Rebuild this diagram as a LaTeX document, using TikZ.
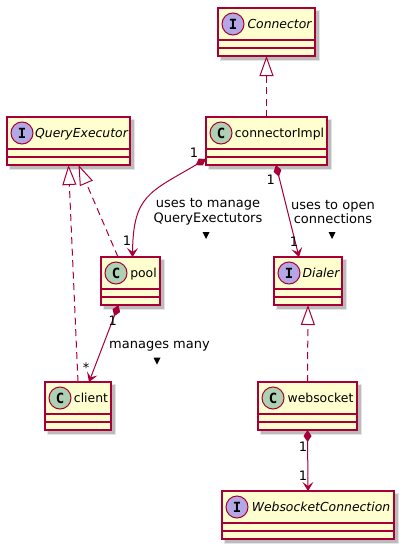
\documentclass[tikz,border=0pt]{standalone}
\usepackage{fontspec}
\setmainfont{DejaVu Sans}[ItalicFont={DejaVu Sans Oblique},BoldFont={DejaVu Sans Bold}]
\newfontfamily\iconfont{DejaVu Sans Mono Bold}
\usetikzlibrary{arrows.meta}
\definecolor{umlred}{HTML}{A80036}
\definecolor{umlfill}{HTML}{FEFECE}
\definecolor{classcirc}{HTML}{ADD1B2}
\definecolor{ifacecirc}{HTML}{B4A7E5}
\tikzset{
  umlbox/.style={draw=umlred, fill=umlfill, line width=1.5pt, rectangle, inner sep=0pt, outer sep=0pt, minimum height=48pt},
  sepline/.style={draw=umlred, line width=1.5pt},
  iconbase/.style={circle, draw=umlred, line width=1pt, minimum size=22pt, inner sep=0pt, font=\fontsize{14}{14}\selectfont\iconfont},
  classicon/.style={iconbase, fill=classcirc},
  ifaceicon/.style={iconbase, fill=ifacecirc},
  classname/.style={inner sep=0pt, anchor=base, font=\fontsize{12.4}{14}\selectfont},
  ifacename/.style={inner sep=0pt, anchor=base, font=\fontsize{12.4}{14}\selectfont\itshape},
  edgelabel/.style={inner sep=0pt, align=center, font=\fontsize{13}{14.5}\selectfont},
  card/.style={inner sep=0pt, anchor=base, font=\fontsize{13}{14}\selectfont},
  realize/.style={draw=umlred, line width=1pt, dash pattern=on 7pt off 4.5pt,
    -{Triangle[length=20pt, width=14pt, fill=white]}},
  compose/.style={draw=umlred, line width=1pt,
    {Diamond[length=12pt, width=8pt]}-{Stealth[length=9pt, width=11pt, inset=4pt]}},
  dirmark/.style={fill=black},
}
\newcommand{\umlentity}[8]{%
  \fill[black, opacity=0.10] (#2+2,#3+2) rectangle (#2+#4+5,#3+48+5);
  \fill[black, opacity=0.18] (#2+3,#3+3) rectangle (#2+#4+3.5,#3+48+3.5);
  \node[umlbox, minimum width=#4pt, anchor=north west] (#1) at (#2,#3) {};
  \draw[sepline] (#2,#3+32) -- (#2+#4,#3+32) (#2,#3+40) -- (#2+#4,#3+40);
  \node[#5] (#1-icon) at (#2+15,#3+16) {#6};
  \node[#7] (#1-name) at (#2+13+#4/2,#3+20.5) {#8};
}
\begin{document}
\begin{tikzpicture}[x=1pt, y=-1pt]
\useasboundingbox[fill=white] (0,0) rectangle (404,549);

\umlentity{conn}{218}{8}{97}{ifaceicon}{I}{ifacename}{Connector}
\umlentity{cimpl}{206}{117}{121}{classicon}{C}{classname}{connectorImpl}
\umlentity{qe}{7}{117}{123}{ifaceicon}{I}{ifacename}{QueryExecutor}
\umlentity{pool}{101}{257}{59}{classicon}{C}{classname}{pool}
\umlentity{dialer}{274}{257}{68}{ifaceicon}{I}{ifacename}{Dialer}
\umlentity{client}{45}{382}{66}{classicon}{C}{classname}{client}
\umlentity{ws}{258}{382}{99}{classicon}{C}{classname}{websocket}
\umlentity{wsc}{222}{491}{172}{ifaceicon}{I}{ifacename}{WebsocketConnection}

% realizations
\draw[realize] (cimpl.north) -- (conn.south);
\draw[realize] ([xshift=-12.5pt]pool.north) -- ([xshift=10pt]qe.south);
\draw[realize] (client.north) -- (qe.south);
\draw[realize] (ws.north) -- (dialer.south);

% compositions
\draw[compose] ([yshift=6pt]cimpl.south west) .. controls (150,192) and (133,195) .. ([xshift=2pt]pool.north);
\draw[compose] ([xshift=9.5pt]cimpl.south) -- ([xshift=-9pt]dialer.north);
\draw[compose] ([xshift=-12pt]pool.south) -- ([xshift=11pt]client.north);
\draw[compose] (ws.south) -- (wsc.north);

% cardinalities
\node[card] (c1) at (194,157) {1};
\node[card] (c2) at (270.7,184.7) {1};
\node[card] (c3) at (127,245.7) {1};
\node[card] (c4) at (294,246.4) {1};
\node[card] (c5) at (112.7,325.4) {1};
\node[card] (c6) at (86,372) {*};
\node[card] (c7) at (303,451.2) {1};
\node[card] (c8) at (303,480.2) {1};

% edge labels
\node[edgelabel] (l1) at (208,212) {uses to manage\\QueryExectutors};
\node[edgelabel] (l2) at (333,212) {uses to open\\connections};
\node[edgelabel, anchor=base] (l3) at (159.5,348) {manages many};

\fill[dirmark] (206-3.5,235.5-3.5) -- (206+3.5,235.5-3.5) -- (206,235.5+3.5) -- cycle;
\fill[dirmark] (332-3.5,235.5-3.5) -- (332+3.5,235.5-3.5) -- (332,235.5+3.5) -- cycle;
\fill[dirmark] (157-3.5,361-3.5) -- (157+3.5,361-3.5) -- (157,361+3.5) -- cycle;
\end{tikzpicture}
\end{document}
